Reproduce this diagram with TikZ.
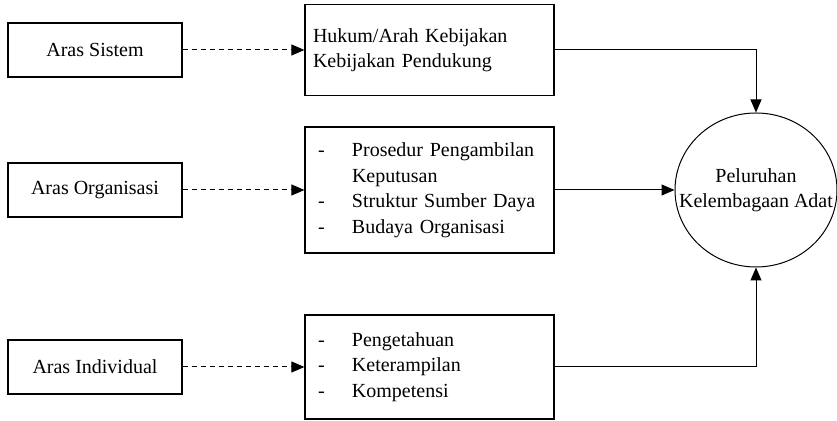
\documentclass[tikz,border=0pt]{standalone}
\usepackage{fontspec}
\setmainfont{Liberation Serif}
\usetikzlibrary{shapes.geometric,arrows.meta}

\newcommand{\dashitem}[1]{\hspace*{2.5pt}\makebox[17pt][l]{-}#1}

\tikzstyle{arasbox} = [rectangle, minimum width=87pt, minimum height=27pt, text centered, draw=black, line width=0.6pt]
\tikzstyle{factorbox} = [rectangle, minimum width=124.5pt, text width=116.5pt, inner xsep=4pt, align=left,
font=\fontsize{10}{12.75}\selectfont, draw=black, line width=0.6pt]
\tikzstyle{outcome} = [ellipse, minimum width=81pt, minimum height=77pt, inner sep=0pt, draw=black, line width=0.5pt]
\tikzstyle{arrow} = [line width=0.5pt,-{Triangle[length=6.5pt,width=5.5pt]}]
\tikzstyle{dashedarrow} = [arrow, dash pattern=on 2.5pt off 2pt]

\begin{document}
\begin{tikzpicture}[node distance=70pt]
			\useasboundingbox (0,0) rectangle (418.5pt,-210.5pt);
			\node (sistem) [arasbox] at (47.5pt,-25pt) {Aras Sistem};
			\node (organisasi) [arasbox, below of=sistem] {Aras Organisasi};
			\node (individual) [arasbox, below of=organisasi, yshift=-18.5pt] {Aras Individual};
			\node (hukum) [factorbox, minimum height=45.5pt, right of=sistem, xshift=97.25pt] {Hukum/Arah Kebijakan\\Kebijakan Pendukung};
			\node (prosedur) [factorbox, minimum height=63pt, right of=organisasi, xshift=97.25pt] {\dashitem{Prosedur Pengambilan}\\\hspace*{19.5pt}Keputusan\\\dashitem{Struktur Sumber Daya}\\\dashitem{Budaya Organisasi}};
			\node (pengetahuan) [factorbox, minimum height=52pt, right of=individual, xshift=97.25pt] {\dashitem{Pengetahuan}\\\dashitem{Keterampilan}\\\dashitem{Kompetensi}};
			\node (peluruhan) [outcome, right of=prosedur, xshift=93.25pt,
				label={[align=center, font=\fontsize{10}{12.5}\selectfont]center:Peluruhan\\Kelembagaan Adat}] {};
			
			\draw [dashedarrow] (sistem) -- (hukum);
			\draw [dashedarrow] (organisasi) -- (prosedur);
			\draw [dashedarrow] (individual) -- (pengetahuan);
			\draw [arrow] (hukum) -| (peluruhan);
			\draw [arrow] (prosedur) -- (peluruhan);
			\draw [arrow] (pengetahuan) -| (peluruhan);
			
		\end{tikzpicture}
\end{document}
